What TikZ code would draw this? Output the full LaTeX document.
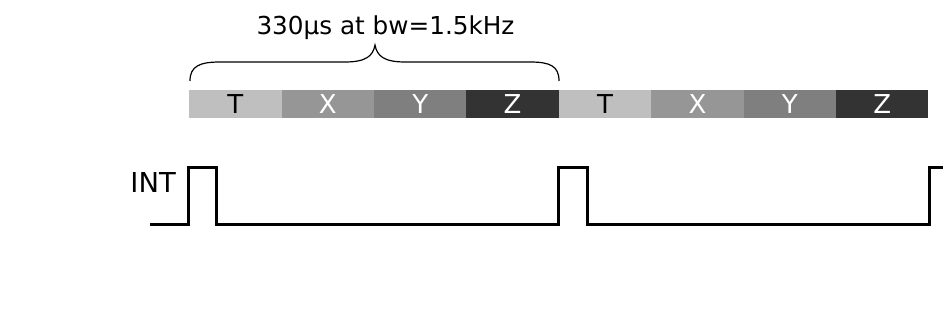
\documentclass[tikz,border=0pt]{standalone}
\usepackage{fontspec}
\setmainfont{DejaVu Sans}
\begin{document}
\begin{tikzpicture}[x=1pt,y=-1pt,
  seg/.style={rectangle,inner sep=0pt,minimum width=92.4pt,minimum height=28pt,anchor=west,font=\fontsize{26}{28}\selectfont},
  segT/.style={seg,fill=segT,text=black},
  segX/.style={seg,fill=segX,text=white},
  segY/.style={seg,fill=segY,text=white},
  segZ/.style={seg,fill=segZ,text=white},
  sig/.style={line width=3pt,line join=miter,line cap=butt},
  brc/.style={line width=1.2pt}]
\definecolor{segT}{HTML}{BFBFBF}
\definecolor{segX}{HTML}{969696}
\definecolor{segY}{HTML}{7F7F7F}
\definecolor{segZ}{HTML}{333333}
\useasboundingbox (0,0) rectangle (943,320);
% segments
\node[segT] (t1) at (189,104) {T};
\node[segX] (x1) at (281.4,104) {X};
\node[segY] (y1) at (373.8,104) {Y};
\node[segZ] (z1) at (466.2,104) {Z};
\node[segT] (t2) at (558.6,104) {T};
\node[segX] (x2) at (651,104) {X};
\node[segY] (y2) at (743.4,104) {Y};
\node[segZ] (z2) at (835.8,104) {Z};
% title
\node[anchor=base,inner sep=0pt,font=\fontsize{24.7}{26}\selectfont] (title) at (385.5,35) {330µs at bw=1.5kHz};
% brace
\draw[brc] (190,81) .. controls (190,66) and (200,62) .. (220,62) -- (345,62)
  .. controls (366,62) and (373,56) .. (375,45)
  .. controls (377,56) and (384,62) .. (405,62) -- (530,62)
  .. controls (550,62) and (559,66) .. (559,81);
% INT
\node[anchor=base east,inner sep=0pt,font=\fontsize{27.4}{29}\selectfont] (int) at (176,193) {INT};
\coordinate (s0) at (150,225);
\coordinate (s1) at (943,168);
\draw[sig] (s0) -- (188,225) -- (188,168) -- (216,168) -- (216,225) -- (558,225) -- (558,168) -- (587,168) -- (587,225) -- (929,225) -- (929,168) -- (s1);
\end{tikzpicture}
\end{document}
